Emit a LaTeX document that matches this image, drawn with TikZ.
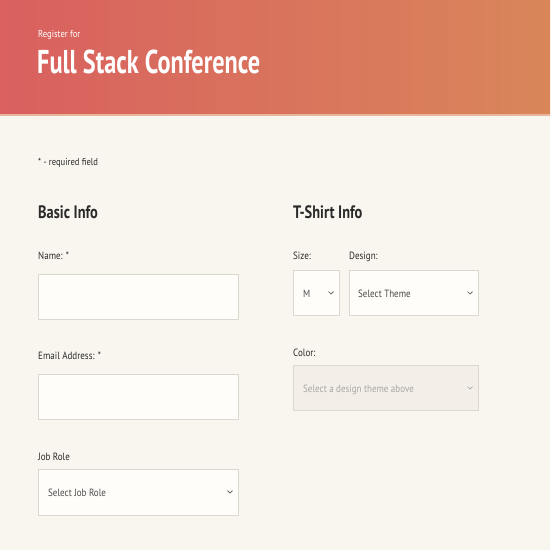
\documentclass[tikz,border=0pt]{standalone}
\usepackage{fontspec}
\setmainfont{PT Sans}[FakeStretch=0.86]
\newfontfamily\titlefont{PT Sans}[FakeStretch=0.735]
\newfontfamily\headfont{PT Sans}[FakeStretch=0.8]
\usetikzlibrary{positioning}
\definecolor{hdrleft}{HTML}{D9605F}
\definecolor{hdrright}{HTML}{D9865A}
\definecolor{pagebg}{HTML}{F9F5EF}
\definecolor{boxfill}{HTML}{FEFDF9}
\definecolor{boxline}{HTML}{DCD8D0}
\definecolor{offfill}{HTML}{F3EEE8}
\definecolor{inktext}{HTML}{2A2A2A}
\definecolor{greytext}{HTML}{A8A6A3}
\begin{document}
\begin{tikzpicture}[x=1pt,y=-1pt, font=\fontsize{10.5}{12}\selectfont, line join=round, line cap=round,
	lbl/.style={anchor=base west, inner sep=0pt, text=inktext},
	head/.style={anchor=base west, inner sep=0pt, text=inktext, font=\headfont\bfseries\fontsize{18}{20}\selectfont},
	field/.style={draw=boxline, line width=0.9pt, fill=boxfill},
	opt/.style={anchor=base west, inner sep=0pt, text=inktext!85, font=\fontsize{10.5}{12}\selectfont},
	chev/.style={draw=inktext!80, line width=0.7pt}]
	\useasboundingbox (0,0) rectangle (550,550);
	\fill[pagebg] (0,0) rectangle (550,550);
	% header band
	\shade[left color=hdrleft, right color=hdrright] (0,0) rectangle (550,115);
	\fill[hdrright!60!white] (0,114) rectangle (550,115.5);
	\node[anchor=base west, inner sep=0pt, text=white, font=\fontsize{10}{11}\selectfont] (reg) at (38,37) {Register for};
	\node[anchor=base west, inner sep=0pt, text=white, font=\titlefont\bfseries\fontsize{33}{38}\selectfont] (title) at (37,73) {Full Stack Conference};
	
	\node[lbl, font=\fontsize{10}{11}\selectfont] (req) at (38,165) {* - required field};
	
	% Basic Info
	\node[head] (basic) at (38,218) {Basic Info};
	\node[lbl] (namelbl) at (38,259) {Name: *};
	\draw[field] (38,274) rectangle (238,319) coordinate (namebox);
	\node[lbl] (maillbl) at (38,359) {Email Address: *};
	\draw[field] (38,374) rectangle (238,419) coordinate (mailbox);
	\node[lbl] (joblbl) at (38,460) {Job Role};
	\draw[field] (38,469) rectangle (238,515) coordinate (jobbox);
	\node[opt] (jobopt) at (48,496) {Select Job Role};
	\draw[chev] (227.5,490.5) -- (230,493) -- (232.5,490.5);
	
	% T-Shirt Info
	\node[head] (tshirt) at (293,218) {T-Shirt Info};
	\node[lbl] (sizelbl) at (293,259) {Size:};
	\node[lbl] (designlbl) at (349,259) {Design:};
	\draw[field] (293,270) rectangle (339,315) coordinate (sizebox);
	\node[opt] (sizeopt) at (303,297) {M};
	\draw[chev] (328.5,291.5) -- (331,294) -- (333.5,291.5);
	\draw[field] (349,270) rectangle (478,315) coordinate (designbox);
	\node[opt] (designopt) at (358,297) {Select Theme};
	\draw[chev] (467.5,291.5) -- (470,294) -- (472.5,291.5);
	\node[lbl] (colorlbl) at (293,356) {Color:};
	\draw[field, fill=offfill] (293,365) rectangle (478,410) coordinate (colorbox);
	\node[opt, text=greytext] (coloropt) at (303,392) {Select a design theme above};
	\draw[chev, draw=greytext] (467.5,386.5) -- (470,389) -- (472.5,386.5);
\end{tikzpicture}
\end{document}
